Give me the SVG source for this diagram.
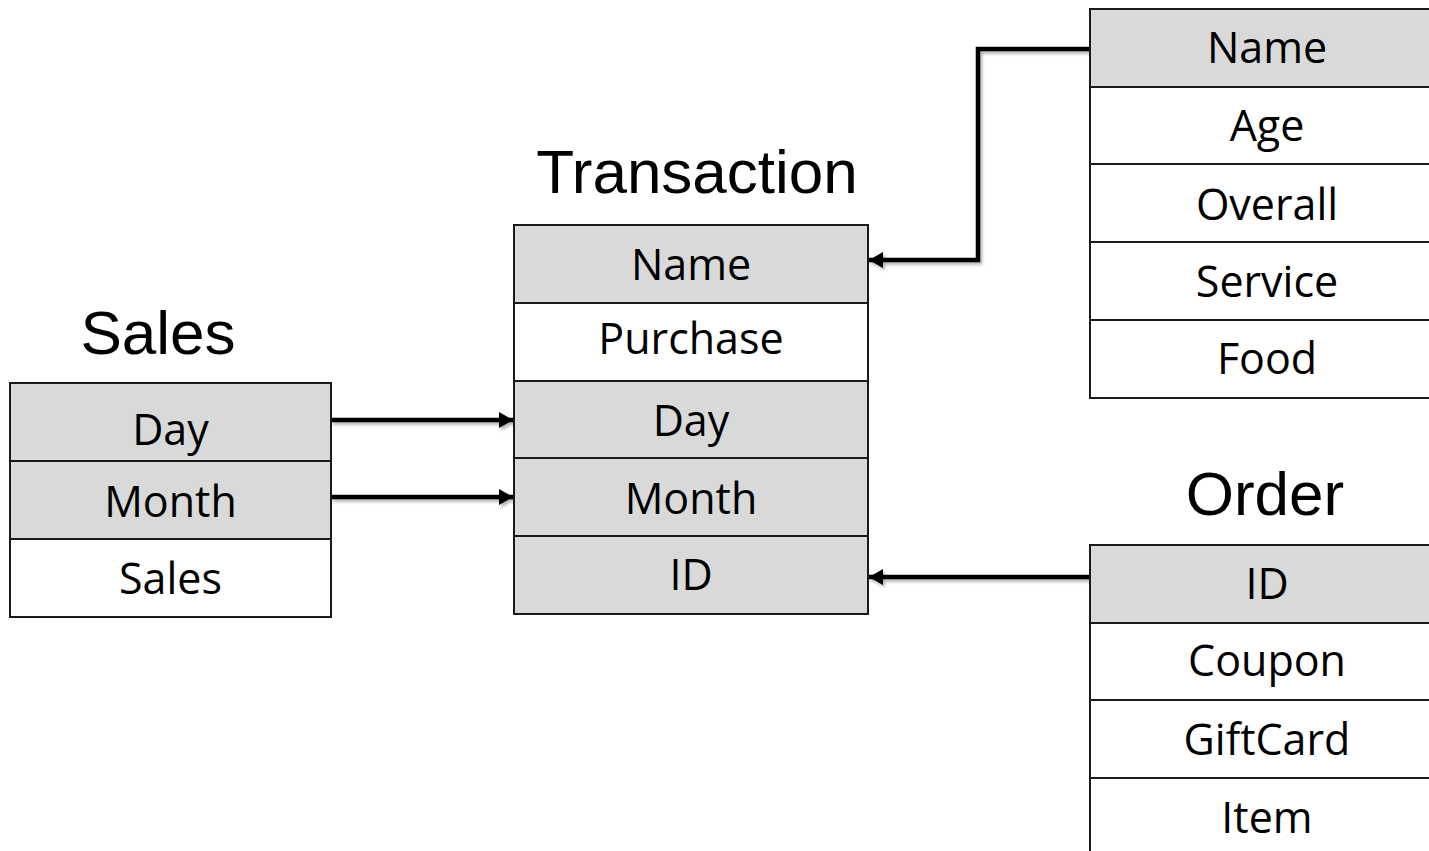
<svg xmlns="http://www.w3.org/2000/svg" width="1429" height="851" viewBox="0 0 1429 851">
<style>
.cell{stroke:#1a1a1a;stroke-width:2}
.key{fill:#d9d9d9}
.plain{fill:#ffffff}
.t{font-family:"Open Sans","Noto Sans","Liberation Sans",sans-serif;font-size:43px;fill:#000;text-anchor:middle}
.title{font-family:"Liberation Sans",Arial,sans-serif;font-size:62px;fill:#000;text-anchor:middle}
.conn{fill:none;stroke:#000;stroke-width:4.5}
</style>
<defs>
<marker id="ah" markerUnits="userSpaceOnUse" markerWidth="16" markerHeight="18" refX="14" refY="8" orient="auto">
<path d="M0,0 L14,8 L0,16 z" fill="#000"/>
</marker>
<filter id="sh" filterUnits="userSpaceOnUse" x="0" y="0" width="1429" height="851">
<feDropShadow dx="2" dy="2.5" stdDeviation="1.5" flood-color="#000" flood-opacity="0.3"/>
</filter>
</defs>
<rect width="1429" height="851" fill="#fff"/>

<g id="connectors" filter="url(#sh)">
<path class="conn" d="M1090,49 H978 V260 H869" marker-end="url(#ah)"/>
<path class="conn" d="M331,420 H513" marker-end="url(#ah)"/>
<path class="conn" d="M331,497 H513" marker-end="url(#ah)"/>
<path class="conn" d="M1090,577 H869" marker-end="url(#ah)"/>
</g>

<g id="sales">
<text class="title" x="158" y="354">Sales</text>
<rect class="cell key" x="10" y="383" width="321" height="78"/>
<rect class="cell key" x="10" y="461" width="321" height="78"/>
<rect class="cell plain" x="10" y="539" width="321" height="78"/>
<text class="t" x="170.5" y="445">Day</text>
<text class="t" x="170.5" y="517">Month</text>
<text class="t" x="170.5" y="594">Sales</text>
</g>

<g id="transaction">
<text class="title" x="697" y="193">Transaction</text>
<rect class="cell key" x="514" y="225" width="354" height="78"/>
<rect class="cell plain" x="514" y="303" width="354" height="78"/>
<rect class="cell key" x="514" y="381" width="354" height="77"/>
<rect class="cell key" x="514" y="458" width="354" height="78"/>
<rect class="cell key" x="514" y="536" width="354" height="78"/>
<text class="t" x="691" y="280">Name</text>
<text class="t" x="691" y="354">Purchase</text>
<text class="t" x="691" y="436">Day</text>
<text class="t" x="691" y="514">Month</text>
<text class="t" x="691" y="590">ID</text>
</g>

<g id="customer">
<rect class="cell key" x="1090" y="9" width="354" height="78"/>
<rect class="cell plain" x="1090" y="87" width="354" height="77"/>
<rect class="cell plain" x="1090" y="164" width="354" height="78"/>
<rect class="cell plain" x="1090" y="242" width="354" height="78"/>
<rect class="cell plain" x="1090" y="320" width="354" height="78"/>
<text class="t" x="1267" y="63">Name</text>
<text class="t" x="1267" y="141">Age</text>
<text class="t" x="1267" y="220">Overall</text>
<text class="t" x="1267" y="297">Service</text>
<text class="t" x="1267" y="374">Food</text>
</g>

<g id="order">
<text class="title" x="1265" y="515">Order</text>
<rect class="cell key" x="1090" y="545" width="354" height="78"/>
<rect class="cell plain" x="1090" y="623" width="354" height="77"/>
<rect class="cell plain" x="1090" y="700" width="354" height="78"/>
<rect class="cell plain" x="1090" y="778" width="354" height="78"/>
<text class="t" x="1267" y="599">ID</text>
<text class="t" x="1267" y="676">Coupon</text>
<text class="t" x="1267" y="755">GiftCard</text>
<text class="t" x="1267" y="833">Item</text>
</g>
</svg>
